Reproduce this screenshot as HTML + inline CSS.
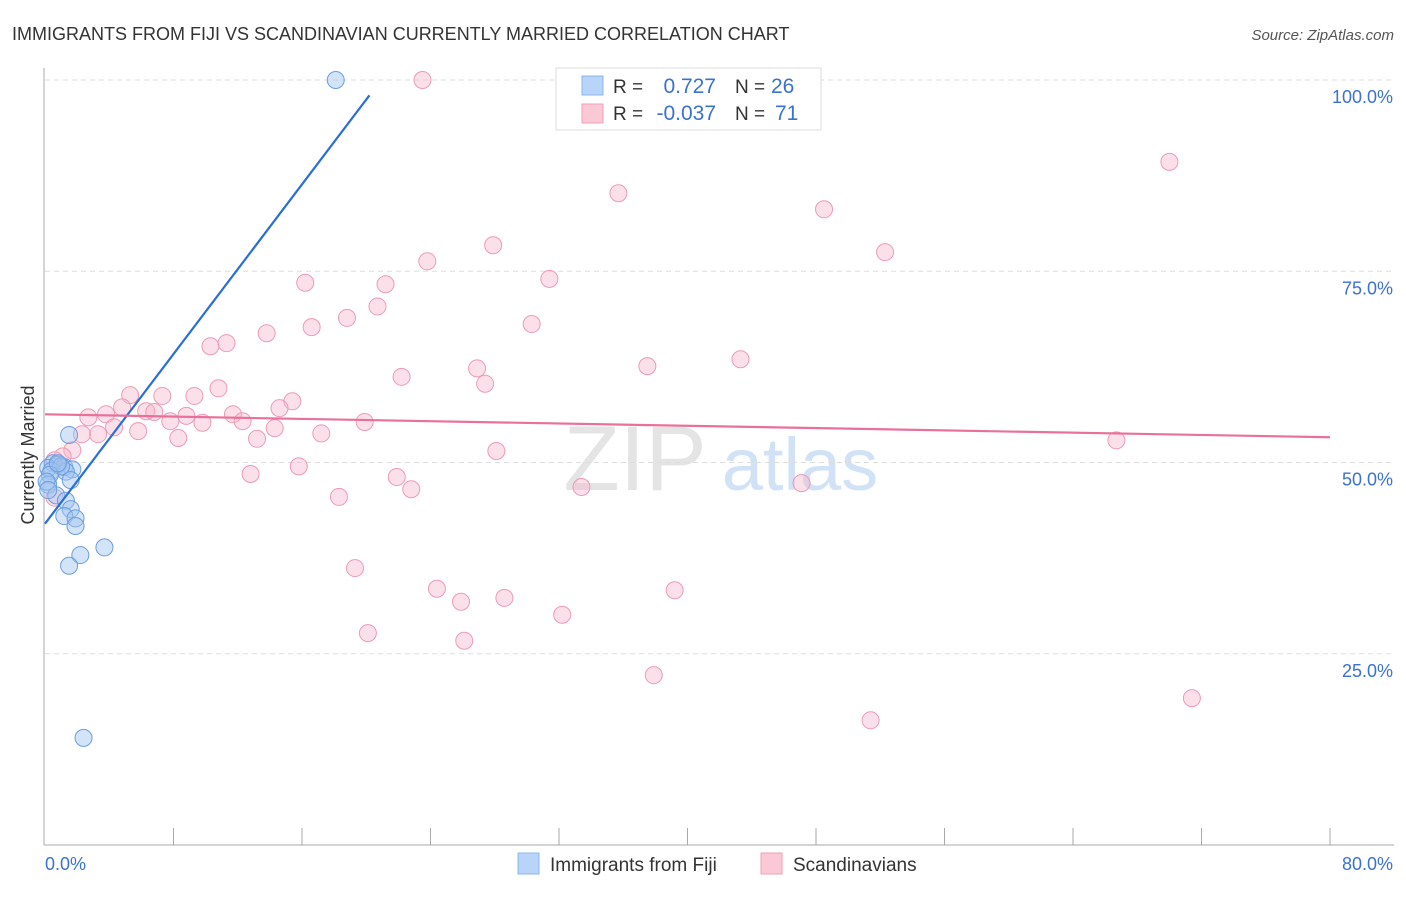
<!DOCTYPE html>
<html><head><meta charset="utf-8"><style>
body{margin:0;background:#fff;font-family:"Liberation Sans",sans-serif}
svg text{font-family:"Liberation Sans",sans-serif}
</style></head><body>
<svg id="c" width="1406" height="892">
<text x="12" y="40" font-size="18" fill="#333">IMMIGRANTS FROM FIJI VS SCANDINAVIAN CURRENTLY MARRIED CORRELATION CHART</text>
<text x="1394" y="40" font-size="15" fill="#555" font-style="italic" text-anchor="end">Source: ZipAtlas.com</text>
<text x="34" y="455" font-size="18" fill="#333" transform="rotate(-90 34 455)" text-anchor="middle">Currently Married</text>
<g><text x="635" y="490" font-size="92" font-family="Liberation Serif" fill="#e4e4e4" text-anchor="middle">ZIP</text><text x="800" y="490" font-size="74" fill="#d2e2f6" text-anchor="middle">atlas</text></g>
<g id="grid"></g><g id="axes"></g><g id="pts"></g><g id="lines"></g>
<g>
<rect x="556" y="68" width="265" height="62" fill="#fff" stroke="#ddd"/>
<rect x="582" y="76" width="21" height="19" fill="#b8d4f8" stroke="#8ab4ec"/>
<rect x="582" y="104" width="21" height="19" fill="#fbc8d6" stroke="#f0a0b8"/>
<text x="613" y="93" font-size="19" fill="#333">R =</text><text x="716" y="93" font-size="21" fill="#3a72d0" text-anchor="end">0.727</text>
<text x="735" y="93" font-size="19" fill="#333">N =</text><text x="771" y="93" font-size="21" fill="#3a72d0">26</text>
<text x="613" y="120" font-size="19" fill="#333">R =</text><text x="716" y="120" font-size="21" fill="#3a72d0" text-anchor="end">-0.037</text>
<text x="735" y="120" font-size="19" fill="#333">N =</text><text x="775" y="120" font-size="21" fill="#3a72d0">71</text>
</g>
<g>
<rect x="518" y="853" width="21" height="21" fill="#b8d4f8" stroke="#8ab4ec"/>
<text x="550" y="871" font-size="19" fill="#333">Immigrants from Fiji</text>
<rect x="761" y="853" width="21" height="21" fill="#fbc8d6" stroke="#f0a0b8"/>
<text x="793" y="871" font-size="19" fill="#333">Scandinavians</text>
</g>
</svg>
<script>
const yTicks=[25,50,75,100];
const yTickLabels=["25.0%","50.0%","75.0%","100.0%"];
const fijiX=[18.1,1.5,0.5,0.8,1.2,0.2,1.7,0.4,1.3,1.0,0.3,1.6,0.2,0.7,1.3,1.6,1.2,1.9,1.9,3.7,2.2,1.5,2.4,0.1,0.8,0.2];
const fijiY=[100,53.6,49.9,49.7,49.4,49.3,49.1,48.9,48.8,49.5,48.4,47.7,47.1,45.7,45.0,43.9,43.0,42.7,41.7,38.9,37.9,36.5,14.0,47.5,49.9,46.4];
const scanX=[23.5,70.0,35.7,48.5,27.9,52.3,23.8,31.4,16.2,21.2,20.7,18.8,16.6,30.3,13.8,11.3,10.3,43.3,37.5,26.9,22.2,27.4,10.8,5.3,7.3,9.3,15.4,4.8,6.3,6.8,14.6,3.8,2.7,11.7,8.8,7.8,9.8,12.3,19.9,4.3,5.8,3.3,2.3,14.3,17.2,8.3,13.2,66.7,28.1,1.7,1.1,0.6,15.8,12.8,21.9,33.4,22.8,47.1,18.3,0.6,19.3,24.4,39.2,28.6,25.9,32.2,20.1,26.1,37.9,71.4,51.4];
const scanY=[100,89.3,85.2,83.1,78.4,77.5,76.3,74.0,73.5,73.3,70.4,68.9,67.7,68.1,66.9,65.6,65.2,63.5,62.6,62.3,61.2,60.3,59.7,58.8,58.7,58.7,58.0,57.2,56.7,56.6,57.1,56.3,55.9,56.3,56.1,55.4,55.2,55.4,55.3,54.6,54.1,53.7,53.7,54.5,53.8,53.2,53.1,52.9,51.5,51.6,50.8,50.3,49.5,48.5,48.1,46.8,46.5,47.3,45.5,45.4,36.2,33.5,33.3,32.3,31.8,30.1,27.7,26.7,22.2,19.2,16.3];
const fijiTrend=[[0,42.0],[20.2,98.0]];
const scanTrend=[[0,56.3],[80,53.3]];
const sx=v=>45+v/80*1285, sy=v=>845-v/100*765;
const NS="http://www.w3.org/2000/svg";
function mk(t,a,p){const e=document.createElementNS(NS,t);for(const k in a)e.setAttribute(k,a[k]);p.appendChild(e);return e;}
const grid=document.getElementById('grid'),axes=document.getElementById('axes'),pts=document.getElementById('pts'),lines=document.getElementById('lines');
yTicks.forEach((t,i)=>{
 const l=mk('line',{x1:45,x2:1394,y1:sy(t),y2:sy(t),stroke:'#ddd','stroke-dasharray':'5,4'},grid);
 
 
 const tx=mk('text',{x:1393,y:sy(t)+23,'font-size':18,fill:'#3a72d0','text-anchor':'end'},axes);
 tx.textContent=yTickLabels[i];
 
 
});
const ax=mk('line',{x1:44,x2:44,y1:68,y2:845,stroke:'#aaa'},axes);


const bx=mk('line',{x1:44,x2:1394,y1:845,y2:845,stroke:'#aaa'},axes);


for(let v=8;v<=80;v+=8){const t=mk('line',{x1:sx(v),x2:sx(v),y1:828,y2:845,stroke:'#aaa'},axes);
 
 }
const x0=mk('text',{x:45,y:870,'font-size':18,fill:'#3a72d0'},axes);x0.textContent='0.0%';


const x1=mk('text',{x:1393,y:870,'font-size':18,fill:'#3a72d0','text-anchor':'end'},axes);x1.textContent='80.0%';


scanX.forEach((x,i)=>{const c=mk('circle',{cx:sx(x),cy:sy(scanY[i]),r:8.5,fill:'rgba(248,182,202,0.42)',stroke:'#ec9cb4','stroke-width':1},pts);
 
 });
fijiX.forEach((x,i)=>{const c=mk('circle',{cx:sx(x),cy:sy(fijiY[i]),r:8.5,fill:'rgba(160,196,240,0.45)',stroke:'#6a9ee0','stroke-width':1},pts);
 
 });
const f=mk('line',{x1:sx(fijiTrend[0][0]),y1:sy(fijiTrend[0][1]),x2:sx(fijiTrend[1][0]),y2:sy(fijiTrend[1][1]),stroke:'#2a6fd6','stroke-width':2.2},lines);


const s=mk('line',{x1:sx(scanTrend[0][0]),y1:sy(scanTrend[0][1]),x2:sx(scanTrend[1][0]),y2:sy(scanTrend[1][1]),stroke:'#e8709a','stroke-width':2.2},lines);


</script>
</body></html>
